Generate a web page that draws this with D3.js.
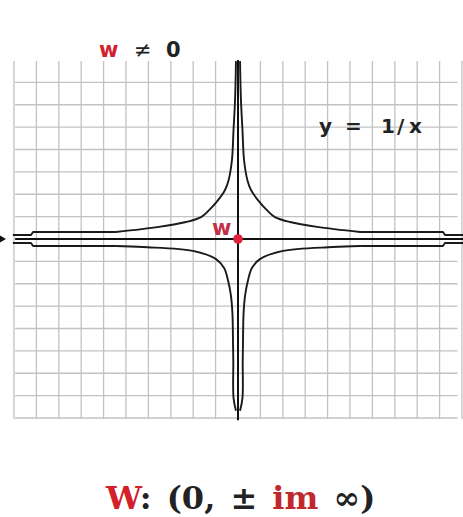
<!DOCTYPE html>
<html>
<head>
<meta charset="utf-8">
<script src="https://cdn.jsdelivr.net/npm/d3@7"></script>
<style>
  html, body { margin: 0; padding: 0; background: #fff; }
  svg { display: block; }
</style>
</head>
<body>
<svg id="chart" width="463" height="517"></svg>
<script>
// Grid positions (one cell = one unit)
const gridX = [-10,-9,-8,-7,-6,-5,-4,-3,-2,-1,1,2,3,4,5,6,7,8,9,10];
const gridY = [-8,-7,-6,-5,-4,-3,-2,-1,1,2,3,4,5,6,7];

// Upper branch of y = 1/x in the first quadrant (x, y): curved part
const upperBranch = [
  [0.09, 7.95], [0.13, 6.25], [0.2, 4.87], [0.27, 3.53], [0.42, 2.63],
  [0.58, 2.19], [0.89, 1.74], [1.29, 1.29], [1.65, 0.98], [2.32, 0.76],
  [3.53, 0.54], [5.45, 0.31]
];
// ... and its straight tail running along the x axis
const upperTail = [[5.45, 0.31], [9.15, 0.31], [9.24, 0.18], [10.05, 0.18]];

// Lower branch in the fourth quadrant (x, y): curved part
const lowerBranch = [
  [0.09, -7.68], [0.2, -7.1], [0.21, -5.5], [0.22, -4.82], [0.25, -3.3],
  [0.32, -2.5], [0.45, -1.83], [0.62, -1.3], [0.98, -0.9], [1.96, -0.54],
  [4.24, -0.36], [5.45, -0.31]
];
const lowerTail = [[5.45, -0.31], [9.15, -0.31], [9.24, -0.18], [10.05, -0.18]];

// Marked point w at the origin
const pointW = [0, 0];

const svg = d3.select("#chart");
const x = d3.scaleLinear().domain([-10, 10]).range([14, 462]);
const y = d3.scaleLinear().domain([-8, 8]).range([418, 60]);

// grid
svg.append("g").selectAll("line").data(gridX).join("line")
  .attr("x1", d => x(d)).attr("x2", d => x(d))
  .attr("y1", y(7.95)).attr("y2", y(-8.05))
  .attr("stroke", "#c2c2c2").attr("stroke-width", 1.3);
svg.append("g").selectAll("line").data(gridY).join("line")
  .attr("x1", x(-9.95)).attr("x2", x(9.8))
  .attr("y1", d => y(d)).attr("y2", d => y(d))
  .attr("stroke", "#c2c2c2").attr("stroke-width", 1.3);

// axes
svg.append("line")
  .attr("x1", x(-9.95)).attr("x2", 463)
  .attr("y1", y(0)).attr("y2", y(0))
  .attr("stroke", "#111").attr("stroke-width", 2);
svg.append("line")
  .attr("x1", x(0)).attr("x2", x(0))
  .attr("y1", y(8)).attr("y2", y(-8.1))
  .attr("stroke", "#111").attr("stroke-width", 2);
// small arrow tip at the far left of the x axis
svg.append("path")
  .attr("d", `M0,${y(0) - 3.5}L6,${y(0)}L0,${y(0) + 3.5}Z`)
  .attr("fill", "#111");

// four branches, each mirrored across the vertical axis
const mirror = pts => pts.map(d => [-d[0], d[1]]);
const curveLine = d3.line().x(d => x(d[0])).y(d => y(d[1])).curve(d3.curveCatmullRom.alpha(0.5));
const tailLine = d3.line().x(d => x(d[0])).y(d => y(d[1]));

const curves = [upperBranch, mirror(upperBranch), lowerBranch, mirror(lowerBranch)];
const tails = [upperTail, mirror(upperTail), lowerTail, mirror(lowerTail)];

const branchG = svg.append("g")
  .attr("fill", "none").attr("stroke", "#1a1a1a").attr("stroke-width", 1.9)
  .attr("stroke-linejoin", "round");
branchG.selectAll("path.curve").data(curves).join("path")
  .attr("class", "curve").attr("d", curveLine);
branchG.selectAll("path.tail").data(tails).join("path")
  .attr("class", "tail").attr("d", tailLine);

// point w
svg.append("circle")
  .attr("cx", x(pointW[0])).attr("cy", y(pointW[1]))
  .attr("r", 4.8).attr("fill", "#e0203c");
svg.append("text")
  .attr("x", x(pointW[0]) - 26).attr("y", y(pointW[1]) - 4)
  .attr("font-family", "DejaVu Sans").attr("font-weight", "bold")
  .attr("font-size", 21).attr("fill", "#c23048")
  .text("w");

// label "w ≠ 0"
const t1 = svg.append("text")
  .attr("y", 57)
  .attr("font-family", "DejaVu Sans").attr("font-size", 21)
  .attr("font-weight", "bold").attr("fill", "#222");
t1.append("tspan").attr("x", 99).attr("fill", "#d3202e").text("w");
t1.append("tspan").attr("x", 134).attr("font-weight", "normal").text("\u2260");
t1.append("tspan").attr("x", 166).text("0");

// label "y = 1/x"
const t2 = svg.append("text")
  .attr("y", 133)
  .attr("font-family", "DejaVu Sans").attr("font-size", 20)
  .attr("font-weight", "bold").attr("fill", "#222");
t2.append("tspan").attr("x", 319).text("y");
t2.append("tspan").attr("x", 345).text("=");
t2.append("tspan").attr("x", 381).text("1");
t2.append("tspan").attr("x", 397).text("/");
t2.append("tspan").attr("x", 409).text("x");

// bottom caption
const t3 = svg.append("text")
  .attr("x", 106).attr("y", 509)
  .attr("font-family", "DejaVu Serif").attr("font-size", 32)
  .attr("font-weight", "bold").attr("fill", "#222")
  .attr("word-spacing", 4)
  .style("white-space", "pre");
t3.append("tspan").attr("fill", "#d3202a").text("W");
t3.append("tspan").text(": (0, \u00b1 ");
t3.append("tspan").attr("fill", "#c0282e").text("im");
t3.append("tspan").text(" \u221e)");
</script>
</body>
</html>
